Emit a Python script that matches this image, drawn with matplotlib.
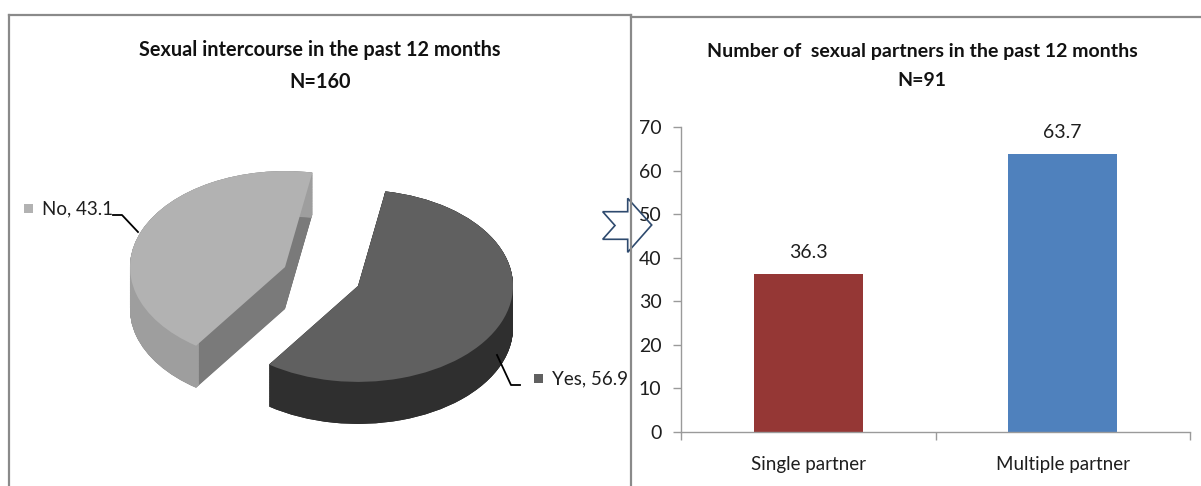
import matplotlib
matplotlib.use("Agg")
import matplotlib.pyplot as plt
import numpy as np
from matplotlib import font_manager
from matplotlib.patches import Polygon, Rectangle
from matplotlib.lines import Line2D

# ---------------- data ----------------
pie_title = "Sexual intercourse in the past 12 months\nN=160"
pie_labels = ["Yes", "No"]
pie_values = [56.9, 43.1]

bar_title = "Number of  sexual partners in the past 12 months\nN=91"
bar_categories = ["Single partner", "Multiple partner"]
bar_values = [36.3, 63.7]
y_ticks = [0, 10, 20, 30, 40, 50, 60, 70]

# ---------------- style ----------------
available = {f.name for f in font_manager.fontManager.ttflist}
for cand in ["Liberation Sans Narrow", "Lato", "Open Sans", "DejaVu Sans"]:
    if cand in available:
        main_font = cand
        break
plt.rcParams["font.family"] = [main_font, "DejaVu Sans"]

W, H = 1201, 486
fig = plt.figure(figsize=(W / 100, H / 100), dpi=100)

top_colors = ["#606060", "#b2b2b2"]
cut_colors = ["#303030", "#7a7a7a"]
side_colors = ["#2f2f2f", "#9e9e9e"]
bar_colors = ["#953735", "#4f81bd"]
text_c = "#1e1e1e"

# ---------------- pie (3D-like) ----------------
cx, cy = 321.5, 276.5      # pie centre in pixels
rx, ry = 155, 96           # pixel size of one radius unit
pl, pr, pt, pb = 60, 600, 120, 460
axp = fig.add_axes([pl / W, 1 - pb / H, (pr - pl) / W, (pb - pt) / H])
start = -125
explode = [0.255, 0.255]
depth = 42 / ry
for k in np.linspace(-depth, 0, 70):
    axp.pie(pie_values, colors=cut_colors, startangle=start, explode=explode,
            center=(0, k), radius=1, wedgeprops=dict(linewidth=0))
for k in np.linspace(-depth, 0, 70):
    axp.pie(pie_values, colors=side_colors, startangle=start, explode=explode,
            center=(0, k), radius=1, wedgeprops=dict(linewidth=0, width=0.035))
axp.pie(pie_values, colors=top_colors, startangle=start, explode=explode,
        center=(0, 0), radius=1, wedgeprops=dict(linewidth=0))
axp.set_aspect("auto")
axp.set_xlim((pl - cx) / rx, (pr - cx) / rx)
axp.set_ylim((cy - pb) / ry, (cy - pt) / ry)
axp.axis("off")

# ---------------- bar chart ----------------
bl, br, bt, bb = 681, 1190, 127, 432
axb = fig.add_axes([bl / W, 1 - bb / H, (br - bl) / W, (bb - bt) / H])
x = np.arange(len(bar_categories))
axb.bar(x, bar_values, width=0.43, color=bar_colors)
for xi, v in zip(x, bar_values):
    axb.text(xi, v + 3.0, f"{v:.1f}", ha="center", va="bottom", fontsize=14,
             color=text_c)
axb.set_ylim(0, 70)
axb.set_xlim(-0.5, 1.5)
axb.set_yticks(y_ticks)
axb.set_xticks([-0.5, 0.5, 1.5])
axb.set_xticklabels([])
axb.set_xticks(x, minor=True)
axb.set_xticklabels(bar_categories, minor=True)
axb.tick_params(axis="x", which="minor", length=0, pad=17, labelsize=13.5,
                labelcolor=text_c)
axb.tick_params(axis="x", which="major", length=6, color="#9a9a9a", width=1)
axb.tick_params(axis="y", length=6, color="#9a9a9a", width=1, labelsize=14,
                labelcolor=text_c, pad=8)
for s in ["top", "right"]:
    axb.spines[s].set_visible(False)
for s in ["left", "bottom"]:
    axb.spines[s].set_color("#9a9a9a")
    axb.spines[s].set_linewidth(1)

# ---------------- overlay: frames, titles, labels, arrow ----------------
ov = fig.add_axes([0, 0, 1, 1], zorder=5)
ov.set_xlim(0, W)
ov.set_ylim(H, 0)
ov.axis("off")
ov.patch.set_alpha(0)

frame_c = "#8a8a8a"
ov.add_line(Line2D([9, 9], [15, H], color=frame_c, lw=1.6))
ov.add_line(Line2D([9, 631], [15, 15], color=frame_c, lw=1.6))
ov.add_line(Line2D([631, 631], [15, H], color=frame_c, lw=1.6))
ov.add_line(Line2D([631, W], [17, 17], color=frame_c, lw=1.6))

ov.text(320, 66, pie_title, ha="center", va="center", fontsize=14.3,
        fontweight="bold", linespacing=1.8, color="#111111")
ov.text(922, 66, bar_title, ha="center", va="center", fontsize=14,
        fontweight="bold", linespacing=1.8, color="#111111")

# pie data labels
ov.add_patch(Rectangle((24, 203.5), 9, 9.5, color=top_colors[1], lw=0))
ov.text(42, 209, f"{pie_labels[1]}, {pie_values[1]}", ha="left", va="center",
        fontsize=13.5, color=text_c)
ov.add_line(Line2D([113, 122, 138], [215, 215, 232], color="black", lw=1.3))
ov.add_patch(Rectangle((534, 373.5), 9, 9.5, color=top_colors[0], lw=0))
ov.text(552, 379, f"{pie_labels[0]}, {pie_values[0]}", ha="left", va="center",
        fontsize=13.5, color=text_c)
ov.add_line(Line2D([497, 511, 520], [355, 385, 385], color="black", lw=1.3))

# notched arrow
arrow = [(602.7, 211.7), (627.7, 211.7), (627.7, 198.3), (651.7, 225),
         (627.7, 252.3), (627.7, 239.3), (602.7, 239.3), (615, 225.5)]
ov.add_patch(Polygon(arrow, closed=True, fill=False, edgecolor="#2e4a6e", lw=1.2))

fig.savefig("out.png", dpi=100)
